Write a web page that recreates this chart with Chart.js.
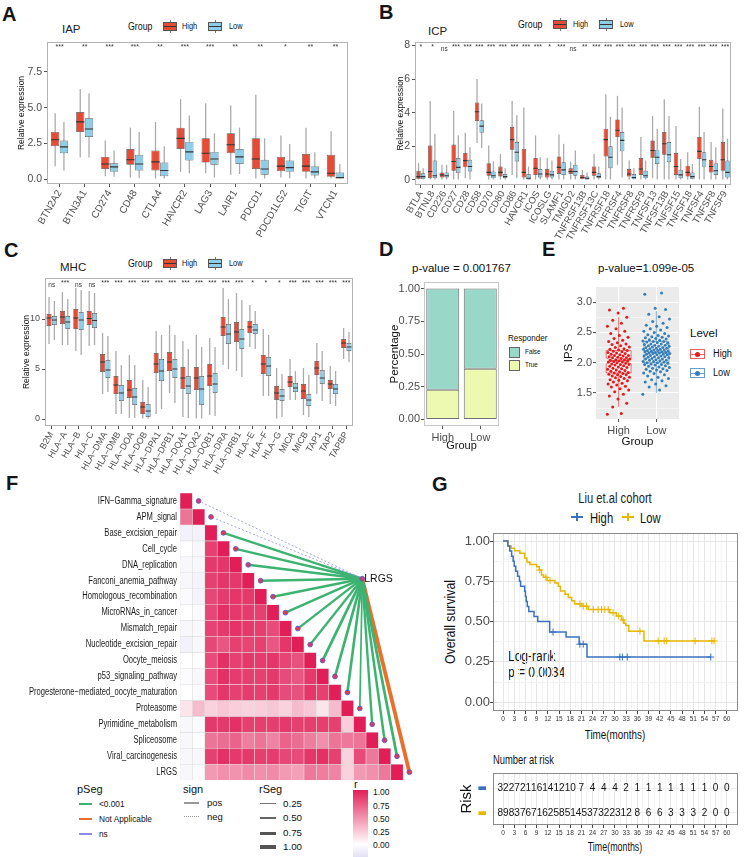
<!DOCTYPE html>
<html>
<head>
<meta charset="utf-8">
<script src="https://cdn.jsdelivr.net/npm/chart.js@4/dist/chart.umd.min.js"></script>
<style>
  body { margin: 0; background: #fff; font-family: "Liberation Sans", Arial, sans-serif; color: #111; }
  #page { position: relative; width: 750px; height: 857px; overflow: hidden; }
  canvas { position: absolute; }
  .a { position: absolute; white-space: nowrap; line-height: 1; transform-origin: 0 50%; }
  .c { position: absolute; white-space: nowrap; line-height: 1; }
  .tag { font-size: 20px; font-weight: bold; color: #151515; }
  .bk { position: absolute; width: 12px; height: 7px; border: 1px solid #555; }
  .bk i { position: absolute; left: 0; right: 0; top: 3px; height: 1px; background: #333; }
  .bk:before, .bk:after { content: ""; position: absolute; left: 5.5px; width: 1px; height: 2px; background: #777; }
  .bk:before { top: -3px; } .bk:after { bottom: -3px; }
  .ek { position: absolute; width: 13px; height: 8px; border: 1px solid; }
  .ek i { position: absolute; left: 4px; top: 1.5px; width: 5px; height: 5px; border-radius: 50%; }
  .ek b { position: absolute; left: 0; right: 0; top: 3.5px; height: 1px; }
  .km { position: absolute; width: 12px; height: 1.6px; }
  .km:after { content: ""; position: absolute; left: 5.2px; top: -3.5px; width: 1.6px; height: 8.5px; background: inherit; }
  .ln { position: absolute; }
</style>
</head>
<body>
<div id="page">
  <div class="a tag" style="left:2px;top:4px">A</div>
  <div class="a tag" style="left:379px;top:2px">B</div>
  <div class="a tag" style="left:4px;top:240px">C</div>
  <div class="a tag" style="left:379px;top:239px">D</div>
  <div class="a tag" style="left:542px;top:239px">E</div>
  <div class="a tag" style="left:6px;top:473px">F</div>
  <div class="a tag" style="left:432px;top:474px">G</div>

  <!-- A -->
  <div class="a" style="left:62px;top:24.4px;font-size:11.5px;color:#222">IAP</div>
  <div class="a" style="left:128px;top:20.6px;font-size:11px;transform:scaleX(0.8)">Group</div>
  <div class="bk" style="left:163px;top:21.5px;background:#E64B35"><i></i></div>
  <div class="a" style="left:182px;top:21.6px;font-size:9px;transform:scaleX(0.82)">High</div>
  <div class="bk" style="left:208px;top:21.5px;background:#8DCDE8"><i></i></div>
  <div class="a" style="left:229px;top:21.6px;font-size:9px;transform:scaleX(0.82)">Low</div>

  <!-- B -->
  <div class="a" style="left:428px;top:26.4px;font-size:11.5px;color:#222">ICP</div>
  <div class="a" style="left:518px;top:18.6px;font-size:11px;transform:scaleX(0.8)">Group</div>
  <div class="bk" style="left:553px;top:19.5px;background:#E64B35"><i></i></div>
  <div class="a" style="left:573px;top:19.6px;font-size:9px;transform:scaleX(0.82)">High</div>
  <div class="bk" style="left:599px;top:19.5px;background:#8DCDE8"><i></i></div>
  <div class="a" style="left:620px;top:19.6px;font-size:9px;transform:scaleX(0.82)">Low</div>

  <!-- C -->
  <div class="a" style="left:60px;top:262.4px;font-size:11.5px;color:#222">MHC</div>
  <div class="a" style="left:128px;top:257.6px;font-size:11px;transform:scaleX(0.8)">Group</div>
  <div class="bk" style="left:163px;top:258.5px;background:#E64B35"><i></i></div>
  <div class="a" style="left:182px;top:258.6px;font-size:9px;transform:scaleX(0.82)">High</div>
  <div class="bk" style="left:208px;top:258.5px;background:#8DCDE8"><i></i></div>
  <div class="a" style="left:229px;top:258.6px;font-size:9px;transform:scaleX(0.82)">Low</div>

  <!-- D -->
  <div class="a" style="left:412px;top:263.4px;font-size:11.5px">p-value = 0.001767</div>
  <div class="a" style="left:508px;top:333.3px;font-size:9.5px;transform:scaleX(0.85)">Responder</div>
  <div class="a" style="left:509px;top:347px;width:9px;height:9px;background:#99D8C9;border:1px solid #666"></div>
  <div class="a" style="left:525px;top:348.3px;font-size:7.5px;transform:scaleX(0.85)">False</div>
  <div class="a" style="left:509px;top:359.5px;width:9px;height:9px;background:#EDF8B1;border:1px solid #666"></div>
  <div class="a" style="left:525px;top:361px;font-size:7.5px;transform:scaleX(0.85)">True</div>

  <!-- E -->
  <div class="a" style="left:598px;top:263.4px;font-size:11.5px">p-value=1.099e-05</div>
  <div class="a" style="left:690px;top:328.4px;font-size:11.5px">Level</div>
  <div class="ek" style="left:690px;top:349px;border-color:#E8615F"><b style="background:#E8615F"></b><i style="background:#E41A1C"></i></div>
  <div class="a" style="left:713px;top:349px;font-size:10px;transform:scaleX(0.92)">High</div>
  <div class="ek" style="left:690px;top:368px;border-color:#6A9BD0"><b style="background:#6A9BD0"></b><i style="background:#377EB8"></i></div>
  <div class="a" style="left:713px;top:368px;font-size:10px;transform:scaleX(0.92)">Low</div>

  <!-- F legends -->
  <div class="a" style="left:77px;top:783.6px;font-size:11px">pSeg</div>
  <div class="ln" style="left:79px;top:803px;width:13px;height:1.5px;background:#3CB371"></div>
  <div class="a" style="left:99px;top:799.6px;font-size:9px;transform:scaleX(0.92)">&lt;0.001</div>
  <div class="ln" style="left:79px;top:818px;width:13px;height:1.5px;background:#E8702A"></div>
  <div class="a" style="left:99px;top:814.6px;font-size:9px;transform:scaleX(0.92)">Not Applicable</div>
  <div class="ln" style="left:79px;top:833px;width:13px;height:1.5px;background:#8C8CE6"></div>
  <div class="a" style="left:99px;top:829.6px;font-size:9px;transform:scaleX(0.92)">ns</div>
  <div class="a" style="left:183px;top:783.6px;font-size:11px">sign</div>
  <div class="ln" style="left:184px;top:802px;width:15px;height:1.5px;background:#999"></div>
  <div class="a" style="left:207px;top:798.3px;font-size:9.5px">pos</div>
  <div class="ln" style="left:184px;top:816px;width:15px;border-top:1.5px dotted #999"></div>
  <div class="a" style="left:207px;top:812.3px;font-size:9.5px">neg</div>
  <div class="a" style="left:259px;top:783.6px;font-size:11px">rSeg</div>
  <div class="ln" style="left:260px;top:803px;width:16px;height:1px;background:#777"></div>
  <div class="a" style="left:283px;top:799px;font-size:9.8px">0.25</div>
  <div class="ln" style="left:260px;top:817px;width:16px;height:2px;background:#666"></div>
  <div class="a" style="left:283px;top:813px;font-size:9.8px">0.50</div>
  <div class="ln" style="left:260px;top:831.5px;width:16px;height:3px;background:#555"></div>
  <div class="a" style="left:283px;top:828px;font-size:9.8px">0.75</div>
  <div class="ln" style="left:260px;top:845px;width:16px;height:4px;background:#555"></div>
  <div class="a" style="left:283px;top:842px;font-size:9.8px">1.00</div>
  <div class="a" style="left:354px;top:778.6px;font-size:11px">r</div>
  <div id="rbar" class="ln" style="left:353px;top:790px;width:15px;height:67px"></div>
  <div class="a" style="left:373px;top:788px;font-size:8.5px">1.00</div>
  <div class="a" style="left:373px;top:802px;font-size:8.5px">0.75</div>
  <div class="a" style="left:373px;top:815px;font-size:8.5px">0.50</div>
  <div class="a" style="left:373px;top:828px;font-size:8.5px">0.25</div>
  <div class="a" style="left:373px;top:841px;font-size:8.5px">0.00</div>

  <!-- G -->
  <div class="c" style="left:615px;top:498px;font-size:14px;color:#222;transform:translate(-50%,-50%) scaleX(0.8)">Liu et.al cohort</div>
  <div class="km" style="left:571px;top:516px;background:#3A72BE"></div>
  <div class="a" style="left:590px;top:509.6px;font-size:15px;transform:scaleX(0.75)">High</div>
  <div class="km" style="left:622px;top:516px;background:#E7B800"></div>
  <div class="a" style="left:640px;top:509.6px;font-size:15px;transform:scaleX(0.75)">Low</div>
  <div class="a" style="left:508px;top:647.6px;font-size:15px;transform:scaleX(0.8)">Log-rank</div>
  <div class="a" style="left:508px;top:663.6px;font-size:15px;transform:scaleX(0.8)">p = 0.0034</div>
  <div class="c" style="left:450px;top:622px;font-size:14px;transform:translate(-50%,-50%) rotate(-90deg) scaleX(0.88)">Overall survival</div>
  <div class="c" style="left:615px;top:734px;font-size:13px;transform:translate(-50%,-50%) scaleX(0.76)">Time(months)</div>
  <div class="a" style="left:493px;top:753.9px;font-size:12.5px;transform:scaleX(0.75)">Number at risk</div>
  <div class="c" style="left:615px;top:847px;font-size:12px;transform:translate(-50%,-50%) scaleX(0.74)">Time(months)</div>

  <canvas id="cA" width="360" height="240" style="left:0;top:0"></canvas>
  <canvas id="cB" width="375" height="240" style="left:375px;top:0"></canvas>
  <canvas id="cC" width="375" height="260" style="left:0;top:220px"></canvas>
  <canvas id="cD" width="165" height="240" style="left:375px;top:220px"></canvas>
  <canvas id="cE" width="220" height="240" style="left:530px;top:220px"></canvas>
  <canvas id="cF" width="440" height="305" style="left:0;top:480px"></canvas>
  <canvas id="cG" width="310" height="265" style="left:440px;top:480px"></canvas>
  <canvas id="cR" width="310" height="112" style="left:440px;top:745px"></canvas>
</div>

<script>
// ---------- data ----------
// boxplot rows are [lower whisker, q1, median, q3, upper whisker]
const iapGenes = ['BTN2A2', 'BTN3A1', 'CD274', 'CD48', 'CTLA4', 'HAVCR2', 'LAG3', 'LAIR1', 'PDCD1', 'PDCD1LG2', 'TIGIT', 'VTCN1'];
const iapHigh = [[0.9, 2.3, 2.75, 3.3, 4.6], [1.5, 3.3, 4.0, 4.7, 6.3], [0.2, 0.7, 1.05, 1.55, 2.7], [0.1, 1.0, 1.35, 2.1, 3.6],
  [0, 0.6, 1.2, 2.0, 4.0], [0.5, 2.1, 2.85, 3.6, 5.6], [0.4, 1.15, 1.8, 2.85, 5.3], [0.3, 1.8, 2.4, 3.2, 5.15],
  [0, 0.7, 1.4, 2.85, 5.9], [0.1, 0.55, 0.9, 1.55, 3.05], [0, 0.5, 0.9, 1.75, 3.6], [0, 0.15, 0.4, 1.7, 3.35]];
const iapLow = [[0.6, 1.8, 2.25, 2.7, 4.0], [1.5, 2.95, 3.5, 4.25, 6.0], [0.15, 0.5, 0.85, 1.1, 2.0], [0.05, 0.6, 1.05, 1.7, 3.3],
  [0, 0.2, 0.6, 1.15, 2.3], [0.4, 1.3, 1.9, 2.6, 4.45], [0.1, 1.0, 1.4, 1.9, 3.2], [0.35, 1.05, 1.55, 2.1, 3.6],
  [0, 0.3, 0.7, 1.35, 2.85], [0.05, 0.5, 0.8, 1.3, 2.45], [0, 0.25, 0.5, 0.9, 1.85], [0, 0.05, 0.1, 0.45, 1.05]];
const iapStars = ['***', '**', '***', '***', '**', '***', '***', '**', '**', '*', '**', '**'];

const icpGenes = ['BTLA', 'BTNL8', 'CD226', 'CD27', 'CD28', 'CD58', 'CD70', 'CD80', 'CD86', 'HAVCR1', 'ICOS', 'ICOSLG', 'SLAMF1', 'TMIGD2',
  'TNFRSF13B', 'TNFRSF13C', 'TNFRSF18', 'TNFRSF4', 'TNFRSF8', 'TNFRSF9', 'TNFSF13', 'TNFSF13B', 'TNFSF15', 'TNFSF18', 'TNFSF4', 'TNFSF8', 'TNFSF9'];
const icpHigh = [[0, 0.05, 0.2, 0.55, 1.0], [0, 0.1, 0.5, 2.05, 4.7], [0, 0.15, 0.3, 0.45, 0.9], [0, 0.55, 1.1, 2.1, 4.1],
  [0.1, 0.75, 1.15, 1.6, 2.8], [2.2, 3.5, 4.05, 4.6, 6.0], [0, 0.25, 0.45, 1.0, 2.05], [0, 0.2, 0.45, 0.8, 1.55],
  [0.3, 1.8, 2.4, 3.15, 4.7], [0, 0.15, 0.45, 1.85, 4.3], [0, 0.3, 0.7, 1.3, 2.65], [0, 0.15, 0.35, 0.65, 1.3],
  [0, 0.35, 0.75, 1.4, 2.7], [0, 0.35, 0.5, 0.7, 1.1], [0, 0.05, 0.15, 0.3, 0.6], [0, 0.25, 0.45, 0.8, 1.55],
  [0, 1.4, 2.4, 3.05, 5.1], [0.9, 2.55, 2.95, 3.6, 5.0], [0, 0.2, 0.35, 0.65, 1.15], [0, 0.3, 0.65, 1.3, 2.55],
  [0.1, 1.3, 1.75, 2.35, 3.8], [0, 1.5, 2.15, 2.85, 4.8], [0, 0.3, 0.8, 1.6, 3.2], [0, 0.2, 0.45, 0.85, 1.65],
  [0, 1.25, 1.7, 2.55, 4.35], [0, 0.45, 0.8, 1.2, 2.25], [0, 0.55, 1.2, 2.25, 4.25]];
const icpLow = [[0, 0.05, 0.2, 0.4, 0.7], [0, 0.1, 0.25, 1.15, 2.75], [0, 0.15, 0.25, 0.45, 0.9], [0, 0.4, 0.75, 1.3, 2.65],
  [0, 0.5, 0.8, 1.2, 1.95], [1.9, 2.8, 3.2, 3.55, 4.55], [0, 0.1, 0.25, 0.5, 1.1], [0, 0.1, 0.2, 0.35, 0.7],
  [0.1, 1.1, 1.65, 2.25, 3.85], [0, 0, 0.1, 0.35, 0.8], [0, 0.15, 0.35, 0.65, 1.35], [0, 0.15, 0.3, 0.55, 1.15],
  [0, 0.3, 0.6, 1.05, 2.15], [0, 0.25, 0.5, 0.9, 1.75], [0, 0, 0.1, 0.2, 0.45], [0, 0.1, 0.2, 0.4, 0.8],
  [0, 0.7, 1.35, 2.0, 3.75], [0.15, 1.7, 2.35, 2.85, 4.3], [0, 0.05, 0.15, 0.35, 0.7], [0, 0.1, 0.25, 0.55, 1.15],
  [0, 0.95, 1.35, 1.8, 3.05], [0, 1.05, 1.5, 2.25, 3.8], [0, 0.1, 0.3, 0.6, 1.25], [0, 0.05, 0.2, 0.45, 0.95],
  [0, 0.75, 1.2, 1.65, 2.85], [0, 0.3, 0.55, 1.0, 1.95], [0, 0.15, 0.45, 1.15, 2.45]];
const icpStars = ['*', '*', 'ns', '***', '***', '***', '***', '***', '***', '***', '***', '*', '***', 'ns', '**', '***', '***', '***', '***',
  '***', '***', '***', '***', '***', '***', '***', '***'];

const mhcGenes = ['B2M', 'HLA−A', 'HLA−B', 'HLA−C', 'HLA−DMA', 'HLA−DMB', 'HLA−DOA', 'HLA−DOB', 'HLA−DPA1', 'HLA−DPB1', 'HLA−DQA1',
  'HLA−DQA2', 'HLA−DQB1', 'HLA−DRA', 'HLA−DRB1', 'HLA−E', 'HLA−F', 'HLA−G', 'MICA', 'MICB', 'TAP1', 'TAP2', 'TAPBP'];
const mhcHigh = [[7.5, 9.3, 10.1, 10.5, 12.2], [7.4, 9.5, 10.2, 10.8, 12.7], [6.8, 9.0, 10.1, 11.0, 13.1], [7.3, 9.4, 10.05, 10.8, 12.8],
  [2.5, 4.7, 5.7, 6.5, 8.6], [0.5, 2.5, 3.4, 4.3, 6.8], [0.1, 2.1, 2.9, 3.9, 6.4], [0, 0.5, 1.2, 1.7, 3.9],
  [0.5, 4.6, 5.5, 6.6, 8.8], [2.6, 4.8, 5.7, 6.7, 9.4], [0.2, 3.0, 4.1, 5.2, 7.8], [0, 2.9, 4.1, 5.2, 8.4],
  [0.4, 3.3, 4.3, 5.5, 8.1], [5.4, 8.3, 9.2, 10.2, 13.1], [4.8, 7.7, 8.7, 9.7, 12.6], [7.2, 8.6, 9.2, 9.8, 11.4],
  [2.3, 4.5, 5.5, 6.4, 9.0], [0, 1.9, 2.6, 3.3, 5.1], [1.9, 3.2, 3.7, 4.3, 6.0], [0.4, 2.0, 2.8, 3.5, 5.1],
  [2.5, 4.4, 5.1, 5.8, 7.6], [1.5, 3.0, 3.5, 3.9, 5.3], [6.0, 7.1, 7.6, 8.0, 9.1]];
const mhcLow = [[7.9, 9.4, 9.9, 10.3, 11.8], [7.4, 9.0, 9.7, 10.3, 12.0], [6.4, 8.9, 9.9, 10.7, 12.9], [7.4, 9.1, 9.85, 10.6, 12.6],
  [2.7, 4.1, 4.9, 5.9, 8.3], [0.5, 1.8, 2.6, 3.4, 5.4], [0.1, 1.4, 2.2, 3.1, 5.4], [0, 0.2, 0.8, 1.5, 3.2],
  [1.0, 3.8, 4.8, 6.0, 8.4], [1.6, 4.1, 5.0, 6.0, 8.4], [0.1, 2.5, 3.3, 4.3, 7.0], [0, 1.4, 3.0, 4.3, 7.2],
  [0.3, 2.6, 3.5, 4.6, 7.2], [5.0, 7.5, 8.5, 9.5, 12.0], [4.2, 7.0, 8.0, 9.0, 11.9], [7.0, 8.5, 8.9, 9.5, 10.8],
  [2.3, 4.3, 5.3, 6.2, 8.4], [0.2, 1.8, 2.3, 3.0, 4.5], [1.9, 2.7, 3.1, 3.6, 4.8], [0.2, 1.3, 1.9, 2.5, 4.4],
  [1.8, 3.5, 4.1, 4.9, 6.8], [1.3, 2.5, 3.0, 3.5, 4.8], [5.7, 6.8, 7.2, 7.6, 8.7]];
const mhcStars = ['ns', '***', 'ns', 'ns', '***', '***', '***', '***', '***', '***', '***', '***', '***', '***', '***', '*', '*', '*',
  '***', '***', '***', '***', '***'];

const respGroups = ['High', 'Low'];
const respTrue = [0.227, 0.388];
const respFalse = [0.773, 0.612];

const ipsGroups = ['High', 'Low'];
const ipsHigh = [1.15, 1.16, 1.27, 1.33, 1.40, 1.45, 1.48, 1.52, 1.55, 1.57, 1.60, 1.61, 1.63, 1.65, 1.66, 1.68, 1.70, 1.71, 1.72, 1.74,
  1.75, 1.76, 1.77, 1.78, 1.80, 1.80, 1.81, 1.82, 1.83, 1.84, 1.85, 1.86, 1.87, 1.88, 1.89, 1.90, 1.91, 1.92, 1.93, 1.94, 1.95, 1.96,
  1.97, 1.97, 1.98, 1.99, 2.00, 2.01, 2.01, 2.02, 2.03, 2.03, 2.04, 2.05, 2.05, 2.06, 2.07, 2.08, 2.08, 2.09, 2.10, 2.11, 2.12, 2.12,
  2.13, 2.14, 2.15, 2.16, 2.17, 2.18, 2.19, 2.20, 2.21, 2.22, 2.23, 2.25, 2.26, 2.28, 2.30, 2.31, 2.33, 2.35, 2.37, 2.40, 2.42, 2.45,
  2.48, 2.52, 2.56, 2.60, 2.65, 2.70, 2.75, 2.82, 2.87, 2.90];
const ipsLow = [1.48, 1.55, 1.60, 1.62, 1.65, 1.68, 1.70, 1.72, 1.74, 1.76, 1.78, 1.80, 1.82, 1.83, 1.85, 1.86, 1.87, 1.88, 1.89, 1.90,
  1.91, 1.92, 1.93, 1.94, 1.95, 1.96, 1.97, 1.97, 1.98, 1.99, 2.00, 2.00, 2.01, 2.02, 2.02, 2.03, 2.04, 2.04, 2.05, 2.06, 2.06, 2.07,
  2.08, 2.08, 2.09, 2.10, 2.10, 2.11, 2.11, 2.12, 2.13, 2.13, 2.14, 2.14, 2.15, 2.15, 2.16, 2.16, 2.17, 2.17, 2.18, 2.18, 2.19, 2.19,
  2.20, 2.20, 2.21, 2.21, 2.22, 2.22, 2.23, 2.24, 2.24, 2.25, 2.25, 2.26, 2.27, 2.27, 2.28, 2.29, 2.29, 2.30, 2.31, 2.31, 2.32, 2.33,
  2.34, 2.35, 2.35, 2.36, 2.37, 2.38, 2.39, 2.40, 2.41, 2.42, 2.43, 2.44, 2.45, 2.46, 2.48, 2.50, 2.52, 2.54, 2.56, 2.58, 2.60, 2.62,
  2.65, 2.68, 2.72, 2.76, 2.80, 2.88, 2.90, 3.13, 3.15];
const ipsHighBox = [1.27, 1.83, 2.03, 2.20, 2.75];
const ipsLowBox = [1.50, 2.00, 2.17, 2.35, 2.85];

const pathways = ['IFN−Gamma_signature', 'APM_signal', 'Base_excision_repair', 'Cell_cycle', 'DNA_replication', 'Fanconi_anemia_pathway',
  'Homologous_recombination', 'MicroRNAs_in_cancer', 'Mismatch_repair', 'Nucleotide_excision_repair', 'Oocyte_meiosis',
  'p53_signaling_pathway', 'Progesterone−mediated_oocyte_maturation', 'Proteasome', 'Pyrimidine_metabolism', 'Spliceosome',
  'Viral_carcinogenesis', 'LRGS'];
// lower triangle of the correlation matrix, one row per pathway
const corRows = [
  [1],
  [0.62, 1],
  [-0.08, -0.08, 1],
  [0.0, -0.05, 0.85, 1],
  [-0.05, -0.05, 0.88, 0.9, 1],
  [-0.05, -0.07, 0.85, 0.9, 0.88, 1],
  [-0.03, -0.07, 0.82, 0.87, 0.9, 0.88, 1],
  [0.0, -0.03, 0.82, 0.93, 0.88, 0.87, 0.85, 1],
  [-0.05, -0.04, 0.84, 0.88, 0.91, 0.88, 0.86, 0.8, 1],
  [-0.08, -0.05, 0.82, 0.75, 0.85, 0.83, 0.85, 0.75, 0.9, 1],
  [0.0, 0.0, 0.8, 0.92, 0.85, 0.88, 0.87, 0.9, 0.83, 0.78, 1],
  [-0.02, -0.05, 0.8, 0.92, 0.87, 0.86, 0.85, 0.88, 0.8, 0.75, 0.88, 1],
  [0.0, -0.03, 0.8, 0.9, 0.85, 0.87, 0.85, 0.88, 0.8, 0.78, 0.9, 0.85, 1],
  [0.12, 0.3, 0.2, 0.25, 0.22, 0.2, 0.22, 0.25, 0.2, 0.3, 0.25, 0.12, 0.3, 1],
  [-0.05, -0.03, 0.88, 0.88, 0.92, 0.85, 0.86, 0.86, 0.88, 0.85, 0.86, 0.86, 0.85, 0.22, 1],
  [-0.05, 0.0, 0.62, 0.65, 0.7, 0.58, 0.62, 0.55, 0.7, 0.65, 0.58, 0.5, 0.62, 0.6, 0.62, 1],
  [-0.05, -0.05, 0.85, 0.92, 0.88, 0.88, 0.86, 0.87, 0.82, 0.8, 0.9, 0.92, 0.85, 0.2, 0.8, 0.6, 1],
  [-0.05, -0.03, 0.45, 0.5, 0.48, 0.52, 0.5, 0.52, 0.45, 0.42, 0.6, 0.58, 0.55, 0.2, 0.45, 0.5, 0.6, 1]
];
const linkP = ['ns', 'ns', '<0.001', '<0.001', '<0.001', '<0.001', '<0.001', '<0.001', '<0.001', '<0.001', '<0.001', '<0.001',
  '<0.001', '<0.001', '<0.001', '<0.001', '<0.001', 'Not Applicable'];

const highTimes = [0, 1.3, 1.8, 2.3, 2.7, 3.0, 3.4, 3.9, 4.4, 4.7, 5.8, 6.0, 6.2, 6.5, 6.9, 8.3, 9.3, 12.5, 16.9, 20.4, 22.5, 55.7];
const highSurv = [1, 0.969, 0.938, 0.906, 0.875, 0.844, 0.813, 0.781, 0.75, 0.719, 0.688, 0.656, 0.625, 0.594, 0.563, 0.531, 0.5,
  0.435, 0.405, 0.36, 0.28, 0.28];
const highCensor = [13.4, 20.6, 21.5, 31.3, 32.0, 33.3, 55.7];
const lowTimes = [0, 1.3, 2.2, 3.1, 4.5, 5.8, 6.4, 7.2, 9.0, 9.7, 10.3, 10.9, 11.8, 13.9, 14.8, 15.4, 16.6, 17.5, 18.4, 19.2, 21.0,
  22.8, 28.6, 30.4, 31.8, 32.4, 32.9, 33.7, 37.8, 56.6];
const lowSurv = [1, 0.97, 0.955, 0.94, 0.925, 0.895, 0.87, 0.855, 0.84, 0.82, 0.79, 0.775, 0.755, 0.74, 0.72, 0.69, 0.67, 0.65, 0.63,
  0.61, 0.595, 0.575, 0.555, 0.535, 0.51, 0.49, 0.475, 0.44, 0.38, 0.38];
const lowCensor = [9.8, 11.5, 12.6, 20.6, 21.5, 22.4, 24.2, 25.5, 26.4, 27.3, 28.2, 29.5, 31.0, 32.2, 36.7, 41.6, 43.2, 43.9, 51.5, 56.0, 56.6];

const riskTimes = [0, 3, 6, 9, 12, 15, 18, 21, 24, 27, 30, 33, 36, 39, 42, 45, 48, 51, 54, 57, 60];
const riskHigh = [32, 27, 21, 16, 14, 12, 10, 7, 4, 4, 4, 2, 1, 1, 1, 1, 1, 1, 1, 0, 0];
const riskLow = [89, 83, 76, 71, 62, 58, 51, 45, 37, 32, 23, 12, 8, 6, 6, 3, 3, 3, 2, 0, 0];

// ---------- styles ----------
const SANS = '"Liberation Sans", Arial, sans-serif';
const HIGH_RED = '#E64B35', LOW_BLUE = '#8DCDE8', BOX_EDGE = '#555', WHISK = '#ababab';
const TICK_TXT = '#4d4d4d';
const KM_BLUE = '#3A72BE', KM_GOLD = '#E7B800';
const P_COLORS = {'<0.001': '#3CB371', 'Not Applicable': '#E8702A', 'ns': '#8C8CE6'};

Chart.defaults.font.family = SANS;
Chart.defaults.animation = false;
Chart.defaults.responsive = false;
Chart.defaults.events = [];
Chart.defaults.plugins.legend.display = false;
Chart.defaults.plugins.tooltip.enabled = false;

const fixTicks = vals => s => { s.ticks = vals.map(v => ({value: v})); };
const hideTick = 'rgba(0,0,0,0)';

// ---------- plugins ----------
Chart.register({
  id: 'frame',
  beforeDraw(chart, args, opts) {
    if (!opts.fill) return;
    const {left, top, width, height} = chart.chartArea;
    chart.ctx.save();
    chart.ctx.fillStyle = opts.fill;
    chart.ctx.fillRect(left, top, width, height);
    chart.ctx.restore();
  },
  afterDatasetsDraw(chart, args, opts) {
    if (!opts.color) return;
    const {left, top, width, height} = chart.chartArea;
    const ctx = chart.ctx;
    ctx.save();
    ctx.strokeStyle = opts.color;
    ctx.lineWidth = 1;
    ctx.strokeRect(Math.round(left) + 0.5, Math.round(top) + 0.5, Math.round(width) - 1, Math.round(height) - 1);
    ctx.restore();
  }
});

// median line across each box
Chart.register({
  id: 'medians',
  afterDatasetsDraw(chart) {
    const ctx = chart.ctx, y = chart.scales.y;
    chart.data.datasets.forEach((ds, i) => {
      if (!ds.medians) return;
      ctx.save();
      ctx.strokeStyle = '#333';
      ctx.lineWidth = 1.1;
      ctx.beginPath();
      chart.getDatasetMeta(i).data.forEach((bar, j) => {
        const py = y.getPixelForValue(ds.medians[j]);
        ctx.moveTo(bar.x - bar.width / 2, py);
        ctx.lineTo(bar.x + bar.width / 2, py);
      });
      ctx.stroke();
      ctx.restore();
    });
  }
});

// significance marks along the top of the panel
Chart.register({
  id: 'stars',
  afterDatasetsDraw(chart, args, opts) {
    if (!opts.labels) return;
    const ctx = chart.ctx, x = chart.scales.x, top = chart.chartArea.top;
    ctx.save();
    ctx.fillStyle = '#333';
    ctx.textAlign = 'center';
    ctx.textBaseline = 'top';
    opts.labels.forEach((s, i) => {
      ctx.font = (s === 'ns' ? '6.5px ' : '7px ') + SANS;
      ctx.fillText(s, x.getPixelForValue(i), top + (s === 'ns' ? 4 : 2));
    });
    ctx.restore();
  }
});

// horizontally condensed row labels on the y scale
Chart.register({
  id: 'rowLabels',
  afterDraw(chart, args, opts) {
    if (!opts.labels) return;
    const ctx = chart.ctx, y = chart.scales.y, x0 = chart.chartArea.left - opts.gap;
    ctx.save();
    ctx.font = opts.font;
    ctx.fillStyle = '#1a1a1a';
    ctx.textAlign = 'right';
    ctx.textBaseline = 'middle';
    opts.labels.forEach((s, i) => {
      ctx.save();
      ctx.translate(x0, y.getPixelForValue(i));
      ctx.scale(opts.scaleX, 1);
      ctx.fillText(s, 0, 0);
      ctx.restore();
    });
    ctx.restore();
  }
});

// notched boxes for panel E
Chart.register({
  id: 'notchBoxes',
  beforeDatasetsDraw(chart, args, opts) {
    if (!opts.boxes) return;
    const ctx = chart.ctx, {x, y} = chart.scales;
    opts.boxes.forEach(b => {
      const [lo, q1, med, q3, hi] = b.stats;
      const py = v => y.getPixelForValue(v);
      const xl = x.getPixelForValue(b.x - opts.half), xr = x.getPixelForValue(b.x + opts.half);
      const nl = x.getPixelForValue(b.x - opts.half / 2), nr = x.getPixelForValue(b.x + opts.half / 2);
      const xc = x.getPixelForValue(b.x);
      ctx.save();
      ctx.strokeStyle = b.color;
      ctx.lineWidth = 1;
      ctx.beginPath();
      ctx.moveTo(xc, py(hi)); ctx.lineTo(xc, py(q3));
      ctx.moveTo(xc, py(q1)); ctx.lineTo(xc, py(lo));
      ctx.stroke();
      ctx.beginPath();
      ctx.moveTo(xl, py(q1)); ctx.lineTo(xl, py(med - b.notch)); ctx.lineTo(nl, py(med));
      ctx.lineTo(xl, py(med + b.notch)); ctx.lineTo(xl, py(q3)); ctx.lineTo(xr, py(q3));
      ctx.lineTo(xr, py(med + b.notch)); ctx.lineTo(nr, py(med)); ctx.lineTo(xr, py(med - b.notch));
      ctx.lineTo(xr, py(q1)); ctx.closePath();
      ctx.fillStyle = 'rgba(255,255,255,0.55)';
      ctx.fill();
      ctx.stroke();
      ctx.beginPath();
      ctx.lineWidth = 1.6;
      ctx.moveTo(nl, py(med)); ctx.lineTo(nr, py(med));
      ctx.stroke();
      ctx.restore();
    });
  }
});

// text written at a dataset's point positions
Chart.register({
  id: 'pointText',
  afterDatasetsDraw(chart) {
    const ctx = chart.ctx;
    chart.data.datasets.forEach((ds, i) => {
      if (!ds.texts) return;
      ctx.save();
      ctx.font = ds.textFont;
      ctx.fillStyle = '#111';
      ctx.textAlign = ds.textAlign || 'center';
      ctx.textBaseline = 'middle';
      chart.getDatasetMeta(i).data.forEach((pt, j) => {
        if (ds.texts[j] !== '') ctx.fillText(ds.texts[j], pt.x + (ds.textDx || 0), pt.y);
      });
      ctx.restore();
    });
  }
});

// ---------- A, B, C: grouped boxplots ----------
function boxplot(id, genes, high, low, stars, yCfg, lay) {
  const common = {categoryPercentage: lay.cat, borderSkipped: false};
  new Chart(document.getElementById(id), {
    type: 'bar',
    data: {
      labels: genes,
      datasets: [
        {...common, label: 'High', stack: 'High', data: high.map(s => [s[1], s[3]]), medians: high.map(s => s[2]),
          backgroundColor: HIGH_RED, borderColor: BOX_EDGE, borderWidth: 0.7, barPercentage: 0.94},
        {...common, label: 'Low', stack: 'Low', data: low.map(s => [s[1], s[3]]), medians: low.map(s => s[2]),
          backgroundColor: LOW_BLUE, borderColor: BOX_EDGE, borderWidth: 0.7, barPercentage: 0.94},
        {...common, label: 'High range', stack: 'High', data: high.map(s => [s[0], s[4]]), backgroundColor: WHISK, maxBarThickness: 1.3},
        {...common, label: 'Low range', stack: 'Low', data: low.map(s => [s[0], s[4]]), backgroundColor: WHISK, maxBarThickness: 1.3}
      ]
    },
    options: {
      layout: {padding: {top: lay.top, right: lay.right, left: 0, bottom: 0}},
      scales: {
        x: {
          grid: {offset: false, drawOnChartArea: false, tickLength: 3, tickColor: '#555'},
          border: {display: false},
          ticks: {autoSkip: false, minRotation: 60, maxRotation: 60, font: {size: lay.xFont}, color: TICK_TXT, padding: 1},
          afterFit: s => { s.height = lay.xh; }
        },
        y: {
          stacked: false, min: yCfg.min, max: yCfg.max,
          afterBuildTicks: fixTicks(yCfg.ticks),
          grid: {drawOnChartArea: false, tickLength: 3, tickColor: '#555'},
          border: {display: false},
          ticks: {callback: v => v.toFixed(yCfg.dec), font: {size: lay.yFont}, color: TICK_TXT, padding: 2},
          title: {display: true, text: 'Relative expression', font: {size: 8.5}, color: '#111', padding: {top: lay.tp, bottom: 0}},
          afterFit: s => { s.width = lay.yw; }
        }
      },
      plugins: {frame: {color: '#b3b3b3'}, stars: {labels: stars}}
    }
  });
}

boxplot('cA', iapGenes, iapHigh, iapLow, iapStars, {min: -0.35, max: 9.6, ticks: [0, 2.5, 5, 7.5], dec: 1},
  {top: 42, right: 12, yw: 47, xh: 56, cat: 0.7, xFont: 10, yFont: 10.5, tp: 17});
boxplot('cB', icpGenes, icpHigh, icpLow, icpStars, {min: -0.3, max: 8.2, ticks: [0, 2, 4, 6, 8], dec: 0},
  {top: 42, right: 19, yw: 40, xh: 55, cat: 0.8, xFont: 9.5, yFont: 10.5, tp: 21});
boxplot('cC', mhcGenes, mhcHigh, mhcLow, mhcStars, {min: -0.7, max: 14.1, ticks: [0, 5, 10], dec: 0},
  {top: 58, right: 22, yw: 45, xh: 54, cat: 0.8, xFont: 9, yFont: 9, tp: 22});

// ---------- D: responder proportions ----------
new Chart(document.getElementById('cD'), {
  type: 'bar',
  data: {
    labels: respGroups,
    datasets: [
      {label: 'True', data: respTrue, backgroundColor: '#EDF8B1', borderColor: '#6e6e6e', borderWidth: 1, borderSkipped: false,
        barPercentage: 0.88, categoryPercentage: 1},
      {label: 'False', data: respFalse, backgroundColor: '#99D8C9', borderColor: '#6e6e6e', borderWidth: 1, borderSkipped: false,
        barPercentage: 0.88, categoryPercentage: 1}
    ]
  },
  options: {
    layout: {padding: {top: 62, right: 41, left: 0, bottom: 0}},
    scales: {
      x: {
        stacked: true,
        grid: {offset: false, drawOnChartArea: false, tickLength: 3, tickColor: '#555'},
        border: {display: false},
        ticks: {font: {size: 11}, color: TICK_TXT, padding: 2},
        title: {display: true, text: 'Group', font: {size: 11}, color: '#111', padding: {top: 0, bottom: 7.4}},
        afterFit: s => { s.height = 34; }
      },
      y: {
        stacked: true, min: -0.05, max: 1.05,
        afterBuildTicks: fixTicks([0, 0.25, 0.5, 0.75, 1]),
        grid: {drawOnChartArea: false, tickLength: 3, tickColor: '#555'},
        border: {display: false},
        ticks: {callback: v => v.toFixed(2), font: {size: 11}, color: TICK_TXT, padding: 1},
        title: {display: true, text: 'Percentage', font: {size: 11.5}, color: '#111', padding: {top: 13, bottom: 0}},
        afterFit: s => { s.width = 49; }
      }
    },
    plugins: {frame: {color: '#c8c8c8'}}
  }
});

// ---------- E: IPS by level ----------
const jitter = i => ((i * 0.6180339887) % 1) - 0.5;
new Chart(document.getElementById('cE'), {
  type: 'scatter',
  data: {
    datasets: [
      {label: 'High', data: ipsHigh.map((v, i) => ({x: 1 + jitter(i) * 0.6, y: v})), pointRadius: 1.5, borderWidth: 0,
        backgroundColor: '#E41A1C'},
      {label: 'Low', data: ipsLow.map((v, i) => ({x: 2 + jitter(i) * 0.72, y: v})), pointRadius: 1.5, borderWidth: 0,
        backgroundColor: '#377EB8'}
    ]
  },
  options: {
    layout: {padding: {top: 67, right: 71, left: 0, bottom: 0}},
    scales: {
      x: {
        min: 0.4, max: 2.6,
        afterBuildTicks: fixTicks([1, 2]),
        grid: {color: '#fff', lineWidth: 1.1, tickLength: 3, tickColor: '#555'},
        border: {display: false},
        ticks: {callback: v => ipsGroups[v - 1], font: {size: 11}, color: TICK_TXT, padding: 2},
        title: {display: true, text: 'Group', font: {size: 11.5}, color: '#111', padding: {top: 0, bottom: 11}},
        afterFit: s => { s.height = 41; }
      },
      y: {
        min: 1.07, max: 3.25,
        afterBuildTicks: fixTicks([1.25, 1.5, 1.75, 2, 2.25, 2.5, 2.75, 3]),
        grid: {
          color: '#fff', lineWidth: c => (c.tick && c.tick.value % 0.5 === 0 ? 1.1 : 0.5), tickLength: 3,
          tickColor: c => (c.tick && c.tick.value % 0.5 === 0 ? '#555' : hideTick)
        },
        border: {display: false},
        ticks: {callback: v => (v % 0.5 === 0 ? v.toFixed(1) : ''), font: {size: 11}, color: TICK_TXT, padding: 1},
        title: {display: true, text: 'IPS', font: {size: 11.5}, color: '#111', padding: {top: 32, bottom: 0}},
        afterFit: s => { s.width = 66; }
      }
    },
    plugins: {
      frame: {fill: '#EBEBEB'},
      notchBoxes: {half: 0.33, boxes: [
        {x: 1, stats: ipsHighBox, notch: 0.05, color: 'rgba(228,26,28,0.6)'},
        {x: 2, stats: ipsLowBox, notch: 0.035, color: 'rgba(55,126,184,0.6)'}
      ]}
    }
  }
});

// ---------- F: correlation heatmap with links ----------
function corColor(r) {
  if (r >= 0) {
    const t = Math.min(r, 1);
    return `rgb(${Math.round(255 - t * 29)},${Math.round(255 - t * 225)},${Math.round(255 - t * 167)})`;
  }
  const t = Math.min(-r / 0.2, 1);
  return `rgb(${Math.round(255 - t * 30)},${Math.round(255 - t * 32)},${Math.round(255 - t * 12)})`;
}
document.getElementById('rbar').style.background =
  `linear-gradient(to bottom, ${corColor(1)} 0%, ${corColor(0.5)} 40%, ${corColor(0)} 81%, ${corColor(-0.2)} 100%)`;

const lrgsNode = {x: 14.2, y: 4.87};
const linkR = corRows[corRows.length - 1];

const heatSets = pathways.map((p, i) => ({
  type: 'bar', label: p, order: 2, grouped: false,
  data: corRows[i].map((r, j) => ({x: j, y: [i - 0.5, i + 0.5]})),
  backgroundColor: corRows[i].map(r => corColor(r)),
  borderColor: 'rgba(205,205,205,0.55)', borderWidth: 0.6, borderSkipped: false, barPercentage: 1, categoryPercentage: 1
}));
const linkSets = pathways.map((p, i) => ({
  type: 'line', label: 'link ' + p, order: 1,
  data: [{x: lrgsNode.x, y: lrgsNode.y}, {x: i + 1, y: i}],
  borderColor: P_COLORS[linkP[i]],
  borderWidth: linkP[i] === 'ns' ? 0.8 : 1.2 + Math.abs(linkR[i]) * 2.6,
  borderDash: linkR[i] < 0 ? [2, 2] : [], pointRadius: 0
}));
const dotSet = {
  type: 'line', label: 'nodes', order: 0, showLine: false,
  data: pathways.map((p, i) => ({x: i + 1, y: i})).concat([lrgsNode]),
  pointRadius: 2.4, pointBackgroundColor: '#D93A5D', pointBorderColor: '#5058C8', pointBorderWidth: 0.8,
  texts: pathways.map(() => '').concat(['LRGS']), textAlign: 'left', textDx: 2, textFont: '10.5px ' + SANS
};

new Chart(document.getElementById('cF'), {
  type: 'bar',
  data: {datasets: [dotSet, ...linkSets, ...heatSets]},
  options: {
    layout: {padding: {top: 13, right: 24.4, left: 0, bottom: 4}},
    scales: {
      x: {type: 'linear', display: false, offset: false, min: -0.5, max: 18.5},
      y: {
        type: 'linear', reverse: true, stacked: false, min: -0.5, max: 17.5,
        grid: {display: false},
        border: {display: false},
        ticks: {display: false},
        afterFit: s => { s.width = 180; }
      }
    },
    plugins: {rowLabels: {labels: pathways, font: '10px ' + SANS, scaleX: 0.76, gap: 3}}
  }
});

// ---------- G: Kaplan-Meier ----------
const survAt = (times, surv, t) => {
  let k = 0;
  times.forEach((tt, i) => { if (tt <= t) k = i; });
  return surv[k];
};
const monthTicks = [...Array(41).keys()].map(k => k * 1.5);
const kmX = height => ({
  type: 'linear', min: -2.7, max: 63,
  afterBuildTicks: fixTicks(monthTicks),
  grid: {
    color: c => (c.tick && c.tick.value % 3 === 0 ? '#e6e6e6' : '#f3f3f3'), tickLength: 3,
    tickColor: c => (c.tick && c.tick.value % 3 === 0 ? '#444' : hideTick)
  },
  border: {display: false},
  ticks: {callback: v => (v % 3 === 0 ? v : ''), autoSkip: false, maxRotation: 0, font: {size: 6.5}, color: '#333', padding: 1},
  afterFit: s => { s.height = height; }
});

new Chart(document.getElementById('cG'), {
  type: 'line',
  data: {
    datasets: [
      {label: 'High', data: highTimes.map((t, i) => ({x: t, y: highSurv[i]})), stepped: true, borderColor: KM_BLUE, borderWidth: 1.5, pointRadius: 0},
      {label: 'Low', data: lowTimes.map((t, i) => ({x: t, y: lowSurv[i]})), stepped: true, borderColor: KM_GOLD, borderWidth: 1.5, pointRadius: 0},
      {label: 'High censored', data: highCensor.map(t => ({x: t, y: survAt(highTimes, highSurv, t)})), showLine: false,
        pointStyle: 'cross', pointRadius: 3.5, pointBorderColor: KM_BLUE, pointBorderWidth: 1},
      {label: 'Low censored', data: lowCensor.map(t => ({x: t, y: survAt(lowTimes, lowSurv, t)})), showLine: false,
        pointStyle: 'cross', pointRadius: 3.5, pointBorderColor: KM_GOLD, pointBorderWidth: 1}
    ]
  },
  options: {
    layout: {padding: {top: 53, right: 12, left: 0, bottom: 0}},
    scales: {
      x: kmX(34),
      y: {
        min: -0.055, max: 1.05,
        afterBuildTicks: fixTicks([0, 0.125, 0.25, 0.375, 0.5, 0.625, 0.75, 0.875, 1]),
        grid: {
          color: c => (c.tick && (c.tick.value * 4) % 1 === 0 ? '#e6e6e6' : '#f3f3f3'), tickLength: 3,
          tickColor: c => (c.tick && (c.tick.value * 4) % 1 === 0 ? '#444' : hideTick)
        },
        border: {display: false},
        ticks: {callback: v => ((v * 4) % 1 === 0 ? v.toFixed(2) : ''), font: {size: 13}, color: TICK_TXT, padding: 0},
        afterFit: s => { s.width = 53; }
      }
    },
    plugins: {frame: {color: '#8a8a8a'}}
  }
});

// ---------- G: number at risk ----------
new Chart(document.getElementById('cR'), {
  type: 'line',
  data: {
    datasets: [
      {label: 'High', data: riskTimes.map(t => ({x: t, y: 0})), texts: riskHigh, showLine: false, pointRadius: 0,
        textFont: '10px ' + SANS},
      {label: 'Low', data: riskTimes.map(t => ({x: t, y: 1})), texts: riskLow, showLine: false, pointRadius: 0,
        textFont: '10px ' + SANS}
    ]
  },
  options: {
    layout: {padding: {top: 28, right: 12, left: 0, bottom: 0}},
    scales: {
      x: kmX(32),
      y: {
        min: -0.65, max: 1.5, reverse: true,
        afterBuildTicks: fixTicks([0, 1]),
        grid: {color: '#eeeeee', drawTicks: false},
        border: {display: false},
        ticks: {callback: () => '▬', color: c => [KM_BLUE, KM_GOLD][c.index], font: {size: 10, family: '"DejaVu Sans"'}, padding: 6},
        title: {display: true, text: 'Risk', font: {size: 15}, color: '#111', padding: {top: 18, bottom: 0}},
        afterFit: s => { s.width = 53; }
      }
    },
    plugins: {frame: {color: '#8a8a8a'}}
  }
});
</script>
</body>
</html>
